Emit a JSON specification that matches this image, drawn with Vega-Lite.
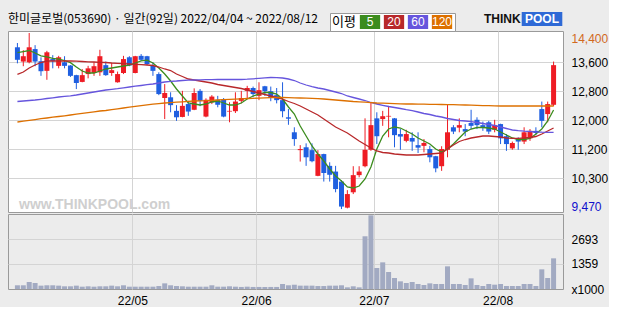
{
"$schema":"https://vega.github.io/schema/vega-lite/v6.json",
"background":"#ececec",
"padding":{"left":7,"top":12,"right":0,"bottom":0},
"spacing":0,
"config":{
 "font":"Liberation Sans",
 "view":{"stroke":"#9a9a9a","fill":"#ffffff","strokeWidth":1},
 "axis":{"domain":false,"ticks":false,"gridColor":"#d4d4d4","gridWidth":1,"labelFont":"Liberation Sans","labelFontSize":12,"labelColor":"#000000","title":null,"labelOverlap":false,"labelFlush":false,"labelBound":false}
},
"datasets":{"px":[
{"i":0,"o":14000,"h":14120,"l":13550,"c":13650,"v":200,"m5":13850,"m20":13244,"m60":12482,"m120":11908},
{"i":1,"o":13600,"h":13920,"l":13470,"c":13750,"v":200,"m5":13880,"m20":13308,"m60":12496,"m120":11930},
{"i":2,"o":13580,"h":14400,"l":13550,"c":14000,"v":377,"m5":13910,"m20":13420,"m60":12510,"m120":11953},
{"i":3,"o":13950,"h":14060,"l":13470,"c":13600,"v":323,"m5":13840,"m20":13504,"m60":12524,"m120":11975},
{"i":4,"o":13610,"h":13720,"l":13200,"c":13330,"v":180,"m5":13760,"m20":13574,"m60":12544,"m120":12000},
{"i":5,"o":13340,"h":13900,"l":13090,"c":13860,"v":200,"m5":13730,"m20":13616,"m60":12566,"m120":12020},
{"i":6,"o":13670,"h":13780,"l":13410,"c":13610,"v":200,"m5":13690,"m20":13616,"m60":12586,"m120":12042},
{"i":7,"o":13480,"h":13760,"l":13410,"c":13720,"v":180,"m5":13670,"m20":13616,"m60":12608,"m120":12062},
{"i":8,"o":13580,"h":13750,"l":13410,"c":13480,"v":145,"m5":13630,"m20":13616,"m60":12628,"m120":12082},
{"i":9,"o":13490,"h":13500,"l":13170,"c":13200,"v":145,"m5":13570,"m20":13616,"m60":12642,"m120":12104},
{"i":10,"o":13220,"h":13230,"l":12830,"c":13000,"v":180,"m5":13448,"m20":13610,"m60":12664,"m120":12126},
{"i":11,"o":13030,"h":13390,"l":13020,"c":13220,"v":125,"m5":13336,"m20":13602,"m60":12692,"m120":12148},
{"i":12,"o":13250,"h":13480,"l":13130,"c":13410,"v":145,"m5":13280,"m20":13594,"m60":12720,"m120":12171},
{"i":13,"o":13280,"h":13580,"l":13200,"c":13470,"v":125,"m5":13280,"m20":13588,"m60":12748,"m120":12194},
{"i":14,"o":13300,"h":13930,"l":13200,"c":13750,"v":145,"m5":13336,"m20":13580,"m60":12776,"m120":12216},
{"i":15,"o":13500,"h":13600,"l":13200,"c":13220,"v":145,"m5":13392,"m20":13574,"m60":12804,"m120":12230},
{"i":16,"o":13280,"h":13560,"l":13200,"c":13360,"v":180,"m5":13420,"m20":13560,"m60":12824,"m120":12252},
{"i":17,"o":13020,"h":13320,"l":13010,"c":13250,"v":145,"m5":13448,"m20":13552,"m60":12843,"m120":12275},
{"i":18,"o":13280,"h":13760,"l":13250,"c":13670,"v":200,"m5":13476,"m20":13543,"m60":12866,"m120":12300},
{"i":19,"o":13720,"h":13750,"l":13470,"c":13490,"v":125,"m5":13500,"m20":13532,"m60":12888,"m120":12322},
{"i":20,"o":13280,"h":13760,"l":13270,"c":13750,"v":125,"m5":13560,"m20":13524,"m60":12910,"m120":12345},
{"i":21,"o":13760,"h":13810,"l":13620,"c":13650,"v":125,"m5":13620,"m20":13515,"m60":12930,"m120":12367},
{"i":22,"o":13750,"h":13760,"l":13500,"c":13530,"v":125,"m5":13640,"m20":13504,"m60":12952,"m120":12390},
{"i":23,"o":13480,"h":13580,"l":13200,"c":13340,"v":125,"m5":13560,"m20":13490,"m60":12972,"m120":12406},
{"i":24,"o":13250,"h":13300,"l":12660,"c":12690,"v":160,"m5":13420,"m20":13448,"m60":13000,"m120":12423},
{"i":25,"o":12580,"h":12970,"l":11990,"c":12720,"v":305,"m5":13252,"m20":13392,"m60":13028,"m120":12440},
{"i":26,"o":12600,"h":12740,"l":12180,"c":12380,"v":200,"m5":13056,"m20":13350,"m60":13048,"m120":12451},
{"i":27,"o":12220,"h":12380,"l":11940,"c":12040,"v":160,"m5":12832,"m20":13252,"m60":13056,"m120":12462},
{"i":28,"o":12050,"h":12780,"l":12040,"c":12360,"v":145,"m5":12636,"m20":13182,"m60":13070,"m120":12474},
{"i":29,"o":12410,"h":12500,"l":12080,"c":12200,"v":125,"m5":12440,"m20":13112,"m60":13078,"m120":12485},
{"i":30,"o":12250,"h":12850,"l":12240,"c":12720,"v":125,"m5":12412,"m20":13084,"m60":13084,"m120":12496},
{"i":31,"o":12780,"h":12830,"l":12350,"c":12500,"v":125,"m5":12384,"m20":13056,"m60":13090,"m120":12502},
{"i":32,"o":12060,"h":12570,"l":12040,"c":12530,"v":125,"m5":12412,"m20":13028,"m60":13092,"m120":12507},
{"i":33,"o":12460,"h":12660,"l":12410,"c":12620,"v":200,"m5":12468,"m20":13000,"m60":13095,"m120":12516},
{"i":34,"o":12530,"h":12640,"l":12320,"c":12390,"v":125,"m5":12496,"m20":12958,"m60":13098,"m120":12524},
{"i":35,"o":12550,"h":12580,"l":12040,"c":12060,"v":125,"m5":12440,"m20":12930,"m60":13098,"m120":12532},
{"i":36,"o":12200,"h":12460,"l":11900,"c":12220,"v":145,"m5":12384,"m20":12902,"m60":13098,"m120":12541},
{"i":37,"o":12210,"h":12740,"l":12160,"c":12480,"v":125,"m5":12384,"m20":12874,"m60":13098,"m120":12549},
{"i":38,"o":12500,"h":12780,"l":12430,"c":12580,"v":110,"m5":12440,"m20":12846,"m60":13098,"m120":12558},
{"i":39,"o":12780,"h":12920,"l":12580,"c":12860,"v":125,"m5":12552,"m20":12804,"m60":13106,"m120":12566},
{"i":40,"o":12860,"h":12900,"l":12600,"c":12690,"v":110,"m5":12636,"m20":12762,"m60":13118,"m120":12572},
{"i":41,"o":12640,"h":13020,"l":12520,"c":12800,"v":110,"m5":12692,"m20":12720,"m60":13132,"m120":12577},
{"i":42,"o":12910,"h":12920,"l":12640,"c":12770,"v":110,"m5":12734,"m20":12678,"m60":13146,"m120":12583},
{"i":43,"o":12770,"h":12900,"l":12490,"c":12580,"v":110,"m5":12734,"m20":12636,"m60":13154,"m120":12588},
{"i":44,"o":12660,"h":12860,"l":12430,"c":12520,"v":110,"m5":12692,"m20":12594,"m60":13148,"m120":12594},
{"i":45,"o":12520,"h":13020,"l":12040,"c":12210,"v":270,"m5":12552,"m20":12552,"m60":13140,"m120":12594},
{"i":46,"o":12040,"h":12270,"l":11830,"c":12000,"v":200,"m5":12328,"m20":12482,"m60":13112,"m120":12591},
{"i":47,"o":11620,"h":11760,"l":11240,"c":11430,"v":230,"m5":12132,"m20":12426,"m60":13070,"m120":12586},
{"i":48,"o":11120,"h":11260,"l":10800,"c":11150,"v":180,"m5":11796,"m20":12356,"m60":13000,"m120":12580},
{"i":49,"o":11200,"h":11310,"l":10680,"c":10920,"v":180,"m5":11516,"m20":12272,"m60":12944,"m120":12574},
{"i":50,"o":11120,"h":11310,"l":10780,"c":10810,"v":180,"m5":11236,"m20":12188,"m60":12896,"m120":12569},
{"i":51,"o":10400,"h":11120,"l":10390,"c":11010,"v":160,"m5":11012,"m20":12104,"m60":12860,"m120":12560},
{"i":52,"o":11010,"h":11020,"l":10240,"c":10480,"v":160,"m5":10816,"m20":11992,"m60":12832,"m120":12552},
{"i":53,"o":10680,"h":10780,"l":10240,"c":10430,"v":180,"m5":10592,"m20":11880,"m60":12790,"m120":12538},
{"i":54,"o":10520,"h":10680,"l":9940,"c":10030,"v":180,"m5":10396,"m20":11768,"m60":12748,"m120":12524},
{"i":55,"o":10240,"h":10280,"l":9470,"c":9540,"v":200,"m5":10256,"m20":11684,"m60":12706,"m120":12510},
{"i":56,"o":9510,"h":10000,"l":9490,"c":9890,"v":90,"m5":10088,"m20":11600,"m60":12636,"m120":12496},
{"i":57,"o":9940,"h":10670,"l":9890,"c":10420,"v":145,"m5":10060,"m20":11488,"m60":12594,"m120":12482},
{"i":58,"o":10420,"h":10670,"l":10360,"c":10520,"v":90,"m5":10116,"m20":11376,"m60":12552,"m120":12474},
{"i":59,"o":10670,"h":12010,"l":10640,"c":11130,"v":2840,"m5":10312,"m20":11278,"m60":12510,"m120":12462},
{"i":60,"o":11130,"h":12440,"l":11100,"c":11820,"v":3968,"m5":10648,"m20":11180,"m60":12454,"m120":12451},
{"i":61,"o":12010,"h":12180,"l":11290,"c":11510,"v":1131,"m5":11152,"m20":11096,"m60":12412,"m120":12440},
{"i":62,"o":11990,"h":12220,"l":11800,"c":12070,"v":1436,"m5":11516,"m20":11054,"m60":12376,"m120":12434},
{"i":63,"o":12060,"h":12360,"l":11480,"c":12080,"v":916,"m5":11712,"m20":11040,"m60":12342,"m120":12429},
{"i":64,"o":12010,"h":12020,"l":11200,"c":11540,"v":592,"m5":11768,"m20":11012,"m60":12314,"m120":12423},
{"i":65,"o":11570,"h":11710,"l":11130,"c":11500,"v":413,"m5":11740,"m20":10998,"m60":12286,"m120":12418},
{"i":66,"o":11380,"h":11690,"l":11340,"c":11570,"v":323,"m5":11656,"m20":10984,"m60":12252,"m120":12412},
{"i":67,"o":11460,"h":11620,"l":11100,"c":11360,"v":377,"m5":11572,"m20":10984,"m60":12224,"m120":12412},
{"i":68,"o":11260,"h":11620,"l":11040,"c":11190,"v":269,"m5":11460,"m20":10984,"m60":12188,"m120":12409},
{"i":69,"o":11240,"h":11430,"l":11060,"c":11320,"v":215,"m5":11376,"m20":10998,"m60":12146,"m120":12406},
{"i":70,"o":11150,"h":11240,"l":10780,"c":10920,"v":305,"m5":11292,"m20":11012,"m60":12118,"m120":12404},
{"i":71,"o":10950,"h":10960,"l":10500,"c":10610,"v":269,"m5":11152,"m20":11026,"m60":12076,"m120":12401},
{"i":72,"o":10670,"h":11230,"l":10540,"c":11150,"v":269,"m5":11068,"m20":11040,"m60":12048,"m120":12398},
{"i":73,"o":11130,"h":12410,"l":10920,"c":11620,"v":1221,"m5":11152,"m20":11152,"m60":12006,"m120":12395},
{"i":74,"o":11760,"h":11820,"l":11570,"c":11640,"v":269,"m5":11292,"m20":11264,"m60":11978,"m120":12392},
{"i":75,"o":11750,"h":12010,"l":11620,"c":11820,"v":269,"m5":11460,"m20":11362,"m60":11950,"m120":12390},
{"i":76,"o":11710,"h":11850,"l":11510,"c":11640,"v":215,"m5":11628,"m20":11418,"m60":11936,"m120":12384},
{"i":77,"o":11880,"h":12250,"l":11710,"c":11800,"v":574,"m5":11712,"m20":11460,"m60":11916,"m120":12378},
{"i":78,"o":11970,"h":12040,"l":11710,"c":11820,"v":215,"m5":11754,"m20":11488,"m60":11894,"m120":12373},
{"i":79,"o":11820,"h":11920,"l":11660,"c":11750,"v":162,"m5":11754,"m20":11516,"m60":11866,"m120":12367},
{"i":80,"o":11900,"h":11940,"l":11570,"c":11640,"v":269,"m5":11740,"m20":11516,"m60":11838,"m120":12364},
{"i":81,"o":11690,"h":11970,"l":11620,"c":11820,"v":233,"m5":11712,"m20":11502,"m60":11810,"m120":12362},
{"i":82,"o":11850,"h":11860,"l":11290,"c":11450,"v":269,"m5":11628,"m20":11488,"m60":11768,"m120":12356},
{"i":83,"o":11510,"h":11570,"l":11100,"c":11290,"v":162,"m5":11544,"m20":11460,"m60":11726,"m120":12356},
{"i":84,"o":11170,"h":11360,"l":11130,"c":11320,"v":162,"m5":11460,"m20":11452,"m60":11684,"m120":12356},
{"i":85,"o":11430,"h":11480,"l":11130,"c":11360,"v":162,"m5":11418,"m20":11452,"m60":11664,"m120":12356},
{"i":86,"o":11360,"h":11760,"l":11290,"c":11620,"v":269,"m5":11418,"m20":11460,"m60":11650,"m120":12356},
{"i":87,"o":11450,"h":11710,"l":11380,"c":11660,"v":269,"m5":11446,"m20":11474,"m60":11642,"m120":12356},
{"i":88,"o":11660,"h":11760,"l":11540,"c":11600,"v":162,"m5":11572,"m20":11502,"m60":11628,"m120":12356},
{"i":89,"o":12270,"h":12480,"l":11760,"c":11940,"v":1059,"m5":11712,"m20":11572,"m60":11622,"m120":12356},
{"i":90,"o":12130,"h":12480,"l":11900,"c":12410,"v":592,"m5":11936,"m20":11656,"m60":11620,"m120":12356},
{"i":91,"o":12390,"h":13600,"l":12350,"c":13500,"v":1652,"m5":12244,"m20":11740,"m60":11620,"m120":12356}
]},
"vconcat":[
{
 "width":555,"height":181,
 "title":{"text":"한미글로벌(053690) · 일간(92일) 2022/04/04 ~ 2022/08/12","anchor":"start","fontSize":12,"font":"Noto Sans CJK KR","fontWeight":"normal","color":"#000000","offset":5},
 "data":{"name":"px"},
 "encoding":{
  "x":{"field":"i","type":"quantitative","scale":{"domain":[-0.75,91.75],"nice":false,"zero":false},"axis":{"values":[19.5,40.5,60.5,81.5],"labels":false,"grid":true}},
  "y":{"field":"l","type":"quantitative","scale":{"domain":[9388,14456],"nice":false,"zero":false},
   "axis":{"orient":"right","labelPadding":8,"labelOverlap":false,"labelBound":false,"values":[14260,13580,12768,11956,11144,10332,9556],
    "labelExpr":"datum.value == 14260 ? '14,400' : datum.value == 13580 ? '13,600' : datum.value == 12768 ? '12,800' : datum.value == 11956 ? '12,000' : datum.value == 11144 ? '11,200' : datum.value == 10332 ? '10,300' : '9,470'",
    "labelColor":{"condition":[{"test":"datum.value == 14260","value":"#d2691e"},{"test":"datum.value == 9556","value":"#1010cc"}],"value":"#000000"},
    "gridOpacity":{"condition":{"test":"datum.value == 14260 || datum.value == 9556","value":0},"value":1}}}
 },
 "layer":[
  {"mark":{"type":"rule","strokeWidth":1},
   "encoding":{
    "y2":{"field":"h"},
    "color":{"condition":{"test":"datum.c >= datum.o","value":"#ee1c24"},"value":"#1f5fe0"}}},
  {"mark":{"type":"bar","size":5},
   "encoding":{
    "y":{"field":"o","type":"quantitative","axis":{"orient":"right","labelPadding":8,"labelOverlap":false,"labelBound":false,"values":[14260,13580,12768,11956,11144,10332,9556],
    "labelExpr":"datum.value == 14260 ? '14,400' : datum.value == 13580 ? '13,600' : datum.value == 12768 ? '12,800' : datum.value == 11956 ? '12,000' : datum.value == 11144 ? '11,200' : datum.value == 10332 ? '10,300' : '9,470'",
    "labelColor":{"condition":[{"test":"datum.value == 14260","value":"#d2691e"},{"test":"datum.value == 9556","value":"#1010cc"}],"value":"#000000"},
    "gridOpacity":{"condition":{"test":"datum.value == 14260 || datum.value == 9556","value":0},"value":1}}},
    "y2":{"field":"c"},
    "color":{"condition":{"test":"datum.c >= datum.o","value":"#ee1c24"},"value":"#1f5fe0"}}},
  {"transform":[{"fold":["m5","m20","m60","m120"],"as":["k","v"]}],
   "mark":{"type":"line","strokeWidth":1.3},
   "encoding":{
    "y":{"field":"v","type":"quantitative","axis":{"orient":"right","labelPadding":8,"labelOverlap":false,"labelBound":false,"values":[14260,13580,12768,11956,11144,10332,9556],
    "labelExpr":"datum.value == 14260 ? '14,400' : datum.value == 13580 ? '13,600' : datum.value == 12768 ? '12,800' : datum.value == 11956 ? '12,000' : datum.value == 11144 ? '11,200' : datum.value == 10332 ? '10,300' : '9,470'",
    "labelColor":{"condition":[{"test":"datum.value == 14260","value":"#d2691e"},{"test":"datum.value == 9556","value":"#1010cc"}],"value":"#000000"},
    "gridOpacity":{"condition":{"test":"datum.value == 14260 || datum.value == 9556","value":0},"value":1}}},
    "color":{"field":"k","type":"nominal","scale":{"domain":["m5","m20","m60","m120"],"range":["#3c8c1e","#b8282a","#6655dd","#dd7000"]},
     "legend":{"orient":"none","legendX":322,"legendY":-18,"direction":"horizontal","columns":4,
      "title":"이평","titleOrient":"left","titleFontSize":13,"titleFont":"Noto Sans CJK KR","titleFontWeight":"normal","titleColor":"#000000","titlePadding":7,"titleAnchor":"middle","titleBaseline":"middle",
      "symbolType":"M-1.45,-1H1.45V1H-1.45Z","symbolSize":196,"symbolStrokeWidth":0,"symbolOpacity":1,"symbolOffset":0,
      "labelExpr":"replace(datum.label, 'm', '')","labelColor":"#ffffff","labelFontSize":12,"labelAlign":"center","labelOffset":-7,
      "columnPadding":2,"padding":2,"strokeColor":"#999999","fillColor":"#ffffff",
      "encode":{"symbols":{"update":{"fill":{"signal":"datum.value == 'm5' ? '#3c8c1e' : datum.value == 'm20' ? '#b8282a' : datum.value == 'm60' ? '#6655dd' : '#dd7000'"},"fillOpacity":{"value":1},"strokeWidth":{"value":0},"opacity":{"value":1}}}}}}}},
  {"transform":[{"filter":"false"}],
   "mark":{"type":"point"},
   "encoding":{
    "shape":{"datum":"www.THINKPOOL.com",
     "legend":{"orient":"none","legendX":0,"legendY":167,"title":null,
      "symbolSize":0,"symbolOpacity":0,"symbolStrokeWidth":0,"symbolOffset":0,
      "labelFontSize":14,"labelFontWeight":"bold","labelColor":"#cfcfcf","labelOffset":-3,"labelFont":"Liberation Sans"}}}}
 ]
},
{
 "width":555,"height":75,
 "data":{"name":"px"},
 "layer":[
  {"mark":{"type":"bar","size":5,"color":"#a2aac2"},
   "encoding":{
    "x":{"field":"i","type":"quantitative","scale":{"domain":[-0.75,91.75],"nice":false,"zero":false},
     "axis":{"values":[19.5,40.5,60.5,81.5],"grid":true,"labelPadding":6,"labelOverlap":false,"labelExpr":"datum.value == 19.5 ? '22/05' : datum.value == 40.5 ? '22/06' : datum.value == 60.5 ? '22/07' : '22/08'"}},
    "y":{"field":"v","type":"quantitative","scale":{"domain":[0,4040],"nice":false},
     "axis":{"orient":"right","labelPadding":8,"labelOverlap":false,"values":[0,1359,2693],"format":"d","labelExpr":"datum.value == 0 ? 'x1000' : datum.label",
      "gridOpacity":{"condition":{"test":"datum.value == 0","value":0},"value":1}}}}},
  {"transform":[{"filter":"false"}],
   "mark":{"type":"square"},
   "encoding":{
    "fill":{"datum":"POOL","scale":{"range":["#2f6ad6"]},
     "legend":{"orient":"none","legendX":476,"legendY":-19,"title":"THINK","titleOrient":"left","titleFontSize":12,"titleFontWeight":"bold","titleFont":"Liberation Sans","titleColor":"#111111","titlePadding":14,"titleAnchor":"middle","titleBaseline":"middle",
      "symbolType":"M-2.9,-1H2.9V1H-2.9Z","symbolSize":196,"symbolStrokeWidth":0,"symbolOpacity":1,"symbolOffset":0,
      "labelFontSize":12,"labelFontWeight":"bold","labelColor":"#ffffff","labelAlign":"center","labelOffset":-7,
      "encode":{"symbols":{"update":{"fill":{"value":"#2f6ad6"},"fillOpacity":{"value":1},"opacity":{"value":1},"strokeWidth":{"value":0}}}}}}}}
 ]
}
]
}
